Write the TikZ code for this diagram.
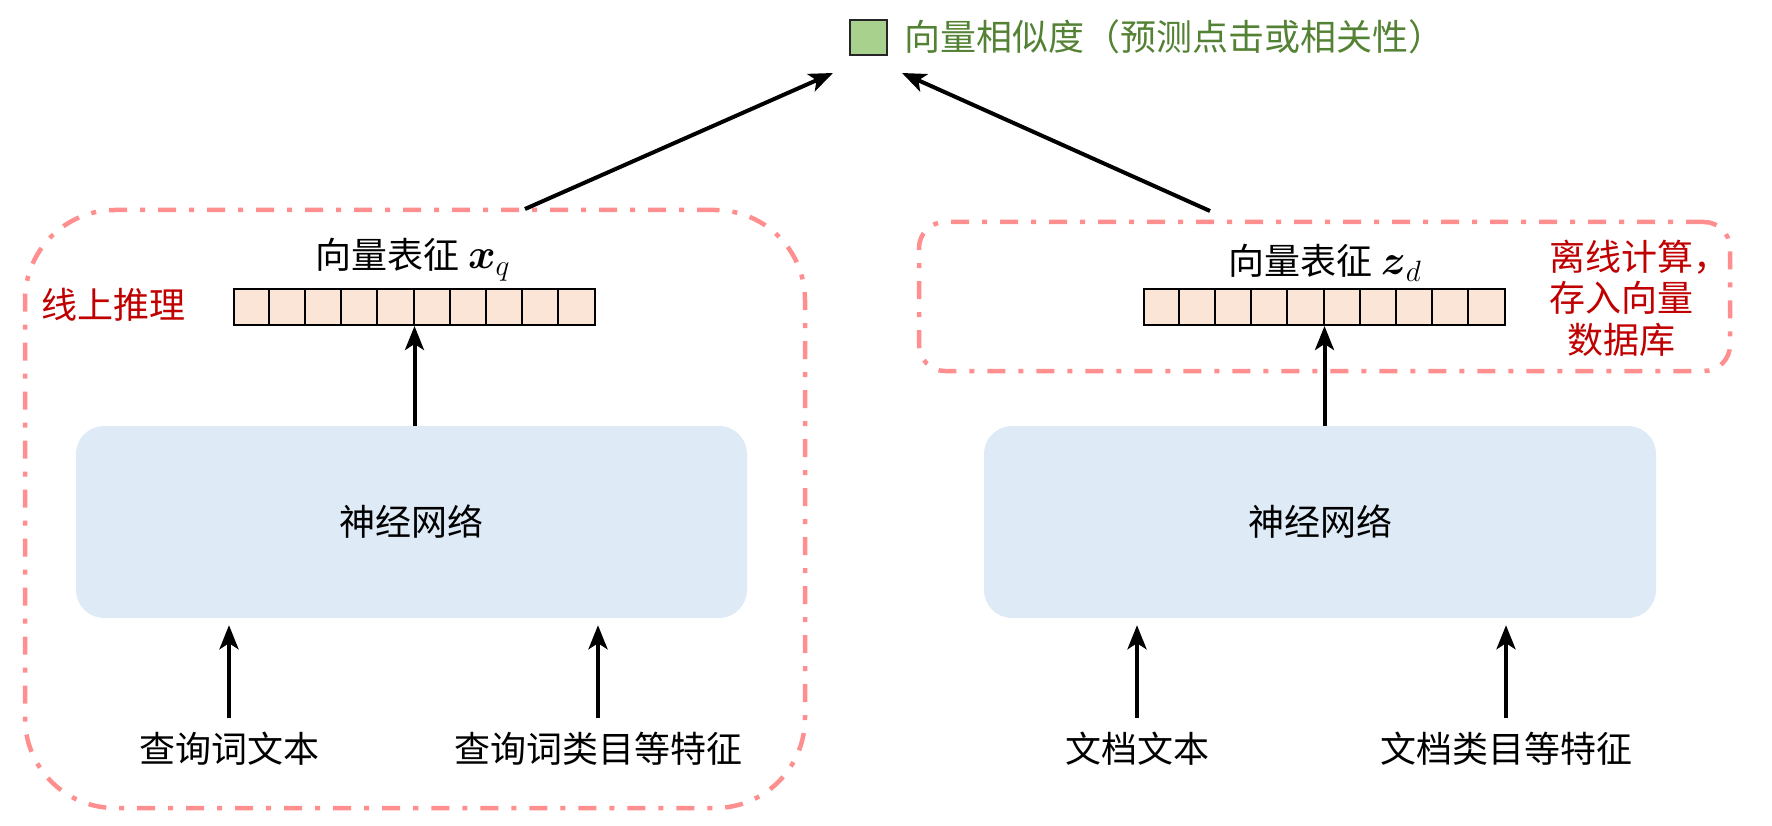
\documentclass[tikz,border=0pt]{standalone}
\usepackage{fix-cm}
\usepackage{amsmath}
\usepackage{fontspec}
\setmainfont{Noto Sans CJK SC}
\usetikzlibrary{arrows.meta}
\definecolor{dashred}{HTML}{FF8F8F}
\definecolor{nnblue}{HTML}{DEEBF7}
\definecolor{cellpeach}{HTML}{FBE5D6}
\definecolor{simgreen}{HTML}{A9D18E}
\definecolor{titlegreen}{HTML}{548235}
\definecolor{notered}{HTML}{C00000}
\newcommand{\bigmath}[1]{{\fontsize{42}{48}\selectfont$#1$}}
\tikzset{
  lbl/.style={font=\fontsize{36}{43}\selectfont, inner sep=0pt, text=black},
  dbox/.style={draw=dashred, line width=4.5pt, dash pattern=on 18pt off 13pt on 5pt off 13pt, inner sep=0pt},
  nnbox/.style={fill=nnblue, rounded corners=28pt, inner sep=0pt, font=\fontsize{36}{43}\selectfont},
  vecbox/.style={draw=black, line width=2pt, fill=cellpeach, minimum width=361pt, minimum height=36pt, inner sep=0pt},
  arr/.style={line width=4pt, -{Stealth[length=24pt,width=19pt,inset=6pt]}},
  note/.style={font=\fontsize{36}{41.5}\selectfont, text=notered, inner sep=0pt},
}
\begin{document}
\begin{tikzpicture}[x=1pt,y=-1pt]
\useasboundingbox (0,0) rectangle (1772,826);

% title
\node[draw=black!85, line width=2pt, fill=simgreen, minimum width=37pt, minimum height=35pt, inner sep=0pt] (sq) at (868,38) {};
\node[lbl, text=titlegreen, anchor=west] (title) at (904,37) {向量相似度（预测点击或相关性）};

% dashed groups
\node[dbox, rounded corners=90pt, minimum width=780pt, minimum height=598pt] (boxL) at (415,509) {};
\node[dbox, rounded corners=26pt, minimum width=811pt, minimum height=149pt] (boxR) at (1324.5,296.5) {};

% left side
\node[note, anchor=west] (online) at (41,305) {线上推理};
\node[nnbox, minimum width=671pt, minimum height=192pt] (nnL) at (411.5,522) {神经网络};
\node[vecbox] (vecL) at (414.5,307) {};
\foreach \i in {1,...,9} {\draw[line width=2pt] ([xshift=36.1*\i pt]vecL.north west) -- ([xshift=36.1*\i pt]vecL.south west);}
\node[lbl, anchor=base] (labL) at (413,269) {向量表征 \bigmath{\boldsymbol{x}_q}};
\node[lbl] (q1) at (229,749) {查询词文本};
\node[lbl] (q2) at (598,749) {查询词类目等特征};

% right side
\node[nnbox, minimum width=672pt, minimum height=192pt] (nnR) at (1320,522) {神经网络};
\node[vecbox] (vecR) at (1324.5,307) {};
\foreach \i in {1,...,9} {\draw[line width=2pt] ([xshift=36.1*\i pt]vecR.north west) -- ([xshift=36.1*\i pt]vecR.south west);}
\node[lbl, anchor=base] (labR) at (1325,275) {向量表征 \bigmath{\boldsymbol{z}_d}};
\node[lbl] (d1) at (1137,749) {文档文本};
\node[lbl] (d2) at (1506,749) {文档类目等特征};
\node[note, align=center] (offline) at (1621,298) {离线计算\rlap{，}\\存入向量\\数据库};

% connectors
\draw[arr, shorten <=31pt, shorten >=7pt] (q1.center) -- (q1.center |- nnL.south);
\draw[arr, shorten <=31pt, shorten >=7pt] (q2.center) -- (q2.center |- nnL.south);
\draw[arr, shorten <=31pt, shorten >=7pt] (d1.center) -- (d1.center |- nnR.south);
\draw[arr, shorten <=31pt, shorten >=7pt] (d2.center) -- (d2.center |- nnR.south);
\draw[arr] (vecL.south |- nnL.north) -- (vecL.south);
\draw[arr] (vecR.south |- nnR.north) -- (vecR.south);

\coordinate (sL) at (525,209);
\coordinate (tL) at (833,73);
\coordinate (sR) at (1210,211);
\coordinate (tR) at (902,73);
\draw[arr] (sL) -- (tL);
\draw[arr] (sR) -- (tR);
\end{tikzpicture}
\end{document}
